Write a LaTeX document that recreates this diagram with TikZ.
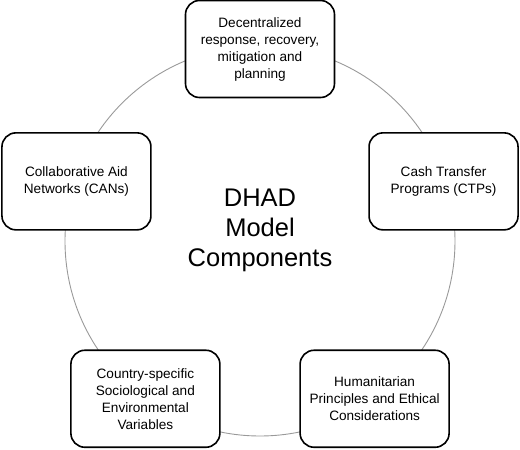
\documentclass[tikz,border=0pt]{standalone}
\usepackage{fontspec}
\setsansfont{Liberation Sans}
\usetikzlibrary{positioning}

\begin{document}
\begin{tikzpicture}[
  font=\sffamily,
  comp/.style={draw, line width=1.6pt, rounded corners=14pt, align=center, minimum width=149pt, minimum height=97pt, fill=white, font=\sffamily\fontsize{13.6}{17}\selectfont},
  ring/.style={draw=black!40, line width=0.9pt},
  title/.style={align=center, font=\sffamily\fontsize{25.5}{30}\selectfont}
]
\useasboundingbox (-260pt,-209pt) rectangle (260pt,241pt);

\coordinate (hub) at (0,0);
\draw[ring] (hub) circle (195pt);
\node[title, above=-34pt of hub] (centre) {DHAD\\Model\\Components};

\node[comp] (decent) at (90:192pt) {Decentralized\\response, recovery,\\mitigation and\\planning};
\node[comp] (cash) at (18:193pt) {Cash Transfer\\Programs (CTPs)};
\node[comp] (human) at (306:195pt) {Humanitarian\\Principles and Ethical\\Considerations};
\node[comp] (country) at (234:195pt) {Country-specific\\Sociological and\\Environmental\\Variables};
\node[comp] (cans) at (162:193pt) {Collaborative Aid\\Networks (CANs)};

\end{tikzpicture}
\end{document}
